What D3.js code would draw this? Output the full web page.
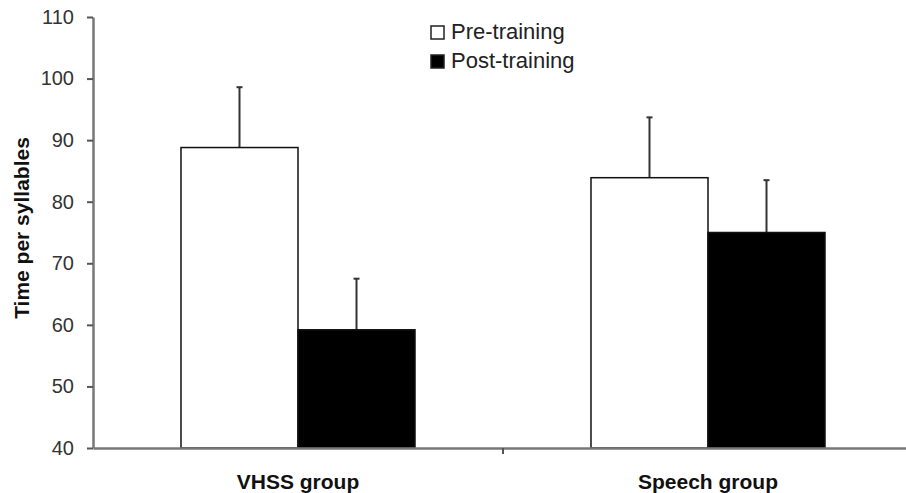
<!DOCTYPE html>
<html>
<head>
<meta charset="utf-8">
<script src="https://cdn.jsdelivr.net/npm/d3@7"></script>
<style>
  body { margin: 0; background: #fff; }
  text { font-family: "Liberation Sans", Arial, sans-serif; }
</style>
</head>
<body>
<svg id="chart" width="906" height="493"></svg>
<script>
// data
var groups = ["VHSS group", "Speech group"];
var series = ["Pre-training", "Post-training"];
var preMeans = [88.8, 83.9];
var postMeans = [59.2, 75.0];
var preErr = [9.8, 9.8];
var postErr = [8.3, 8.5];
var yTicks = [40, 50, 60, 70, 80, 90, 100, 110];

var colors = {"Pre-training": "#fff", "Post-training": "#000"};

var svg = d3.select("#chart");

// scales
var x = d3.scaleBand().domain(groups).range([93, 913]);
var xs = d3.scaleBand().domain(series).range([0, x.bandwidth()]).paddingOuter(0.752).paddingInner(0);
var y = d3.scaleLinear().domain([40, 110]).range([448, 17]);

var rows = [];
groups.forEach(function(g, i) {
  rows.push({group: g, s: "Pre-training", v: preMeans[i], e: preErr[i]});
  rows.push({group: g, s: "Post-training", v: postMeans[i], e: postErr[i]});
});

// error bars (upper only), drawn behind bars
var err = svg.append("g");
rows.forEach(function(d) {
  var cx = x(d.group) + xs(d.s) + xs.bandwidth() / 2;
  err.append("line")
    .attr("x1", cx).attr("x2", cx)
    .attr("y1", y(d.v)).attr("y2", y(d.v + d.e))
    .attr("stroke", "#333").attr("stroke-width", 2);
  err.append("line")
    .attr("x1", cx - 3).attr("x2", cx + 3)
    .attr("y1", y(d.v + d.e)).attr("y2", y(d.v + d.e))
    .attr("stroke", "#333").attr("stroke-width", 2);
});

// bars
svg.append("g").selectAll("rect")
  .data(rows)
  .enter()
  .append("rect")
  .attr("x", function(d) { return x(d.group) + xs(d.s); })
  .attr("y", function(d) { return y(d.v); })
  .attr("width", xs.bandwidth())
  .attr("height", function(d) { return y(40) - y(d.v); })
  .attr("fill", function(d) { return colors[d.s]; })
  .attr("stroke", "#111")
  .attr("stroke-width", 1.5);

// y axis
var yAxis = svg.append("g")
  .attr("transform", "translate(93,0)")
  .call(d3.axisLeft(y).tickValues(yTicks).tickSize(6).tickSizeOuter(0).tickPadding(13));
yAxis.select(".domain").attr("stroke", "#777").attr("stroke-width", 2.5);
yAxis.selectAll(".tick line").attr("stroke", "#555").attr("stroke-width", 2);
yAxis.selectAll("text")
  .attr("fill", "#333")
  .style("font-size", "20px")
  .style("font-family", "Liberation Sans, Arial, sans-serif");

// x axis
var xAxis = svg.append("g")
  .attr("transform", "translate(0,448)")
  .call(d3.axisBottom(x).tickSize(0).tickSizeOuter(0).tickPadding(22));
xAxis.select(".domain").attr("stroke", "#777").attr("stroke-width", 2.5);
xAxis.selectAll("text")
  .attr("fill", "#111")
  .attr("dy", "0.9em")
  .style("font-size", "21px")
  .style("font-weight", "bold")
  .style("font-family", "Liberation Sans, Arial, sans-serif");
// tick between groups
xAxis.append("line")
  .attr("x1", x(groups[1])).attr("x2", x(groups[1]))
  .attr("y1", 0).attr("y2", 6)
  .attr("stroke", "#555").attr("stroke-width", 2);

// y title
svg.append("text")
  .attr("transform", "translate(29,228) rotate(-90)")
  .attr("text-anchor", "middle")
  .attr("fill", "#111")
  .style("font-size", "21px")
  .style("font-weight", "bold")
  .text("Time per syllables");

// legend
var legend = svg.append("g").attr("transform", "translate(431,26)");
series.forEach(function(s, i) {
  var row = legend.append("g").attr("transform", "translate(0," + (i * 29) + ")");
  row.append("rect")
    .attr("width", 13).attr("height", 13)
    .attr("fill", colors[s])
    .attr("stroke", "#222").attr("stroke-width", 1.5);
  row.append("text")
    .attr("x", 20).attr("y", 13)
    .attr("fill", "#222")
    .style("font-size", "22px")
    .text(s);
});
</script>
</body>
</html>
